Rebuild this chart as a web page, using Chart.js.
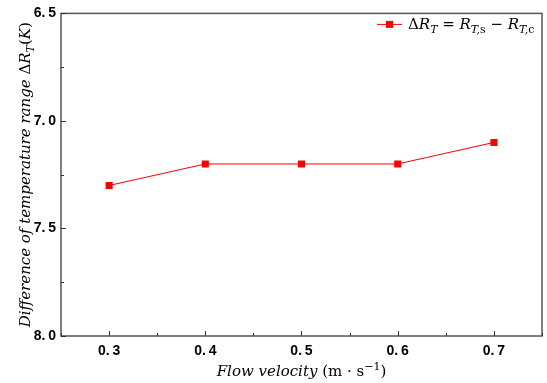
<!DOCTYPE html>
<html>
<head>
<meta charset="utf-8">
<script src="https://cdn.jsdelivr.net/npm/chart.js@4.4.0/dist/chart.umd.min.js"></script>
<style>
  html, body { margin: 0; padding: 0; background: #fff; }
  #quadro { width: 547px; height: 383px; }
</style>
</head>
<body>
<div id="quadro"><canvas id="grafico"></canvas></div>
<script>
// velocidades de escoamento e diferença de faixa de temperatura
const velocidades = [0.3, 0.4, 0.5, 0.6, 0.7];
const deltaRT = [7.3, 7.2, 7.2, 7.2, 7.1];
const rotulosY = [6.5, 7.0, 7.5, 8.0];
const rotulosX = [0.3, 0.4, 0.5, 0.6, 0.7];

const corEixo = '#555';
const fonteSerif = '"DejaVu Serif", "Liberation Serif", serif';
const fonteTicks = { family: '"Liberation Sans", Arial, sans-serif', weight: 'bold', size: 14 };

// desenha texto com partes em itálico, subscrito e sobrescrito
function fontePara(s, tam) {
  let t = (s.sub || s.sup) ? Math.round(tam * 0.7) : tam;
  return (s.i ? 'italic ' : '') + t + 'px ' + fonteSerif;
}
function desenharRico(ctx, segs, x, y, tam, alinhar) {
  let total = 0;
  segs.forEach(s => { ctx.font = fontePara(s, tam); total += ctx.measureText(s.t).width; });
  let cx = alinhar === 'center' ? x - total / 2 : x;
  ctx.textBaseline = 'alphabetic';
  ctx.textAlign = 'left';
  ctx.fillStyle = '#000';
  segs.forEach(s => {
    ctx.font = fontePara(s, tam);
    let dy = s.sub ? tam * 0.25 : (s.sup ? -tam * 0.4 : 0);
    ctx.fillText(s.t, cx, y + dy);
    cx += ctx.measureText(s.t).width;
  });
}

const tituloX = [
  { t: 'Flow velocity ', i: true },
  { t: '(m · s' },
  { t: '−1', sup: true },
  { t: ')' }
];
const tituloY = [
  { t: 'Difference of temperature range ', i: true },
  { t: 'Δ' },
  { t: 'R', i: true },
  { t: 'T', i: true, sub: true },
  { t: '(' },
  { t: 'K', i: true },
  { t: ')' }
];
const textoLegenda = [
  { t: 'Δ' }, { t: 'R', i: true }, { t: 'T', i: true, sub: true },
  { t: ' = ' },
  { t: 'R', i: true }, { t: 'T,', i: true, sub: true }, { t: 's', sub: true },
  { t: ' − ' },
  { t: 'R', i: true }, { t: 'T,', i: true, sub: true }, { t: 'c', sub: true }
];

const pluginMoldura = {
  id: 'moldura',
  afterDraw(chart) {
    const ctx = chart.ctx;
    const a = chart.chartArea;
    const sx = chart.scales.x, sy = chart.scales.y;
    ctx.save();

    // caixa em volta da área do gráfico
    ctx.strokeStyle = corEixo;
    ctx.lineWidth = 1.5;
    ctx.strokeRect(a.left, a.top, a.right - a.left, a.bottom - a.top);

    // marcas dos eixos voltadas para dentro
    ctx.strokeStyle = '#333';
    ctx.lineWidth = 1;
    for (let v = 6.5; v <= 8.0001; v += 0.25) {
      const py = Math.round(sy.getPixelForValue(v)) + 0.5;
      const maior = Math.abs(v * 2 - Math.round(v * 2)) < 1e-6;
      ctx.beginPath();
      ctx.moveTo(a.left, py);
      ctx.lineTo(a.left + (maior ? 5 : 3), py);
      ctx.stroke();
    }
    for (let v = 0.25; v <= 0.7501; v += 0.05) {
      const px = Math.round(sx.getPixelForValue(v)) + 0.5;
      const maior = Math.abs(v * 10 - Math.round(v * 10)) < 1e-6;
      ctx.beginPath();
      ctx.moveTo(px, a.bottom);
      ctx.lineTo(px, a.bottom - (maior ? 5 : 3));
      ctx.stroke();
    }

    // títulos dos eixos
    desenharRico(ctx, tituloX, (a.left + a.right) / 2, 376, 15, 'center');
    ctx.save();
    ctx.translate(30, (a.top + a.bottom) / 2);
    ctx.rotate(-Math.PI / 2);
    desenharRico(ctx, tituloY, 0, 0, 15, 'center');
    ctx.restore();

    // legenda no canto superior direito
    const ly = a.top + 11;
    ctx.strokeStyle = 'red';
    ctx.lineWidth = 1;
    ctx.beginPath();
    ctx.moveTo(377, ly);
    ctx.lineTo(402, ly);
    ctx.stroke();
    ctx.fillStyle = 'red';
    ctx.fillRect(386, ly - 3.5, 7, 7);
    desenharRico(ctx, textoLegenda, 408, ly + 5, 15, 'left');

    ctx.restore();
  }
};

const dados = {
  datasets: [{
    label: 'ΔRT = RT,s − RT,c',
    data: velocidades.map((v, i) => ({ x: v, y: deltaRT[i] })),
    borderColor: 'red',
    backgroundColor: 'red',
    borderWidth: 1,
    pointStyle: 'rect',
    pointRadius: 5,
    pointBorderWidth: 0,
    tension: 0
  }]
};

const config = {
  type: 'line',
  data: dados,
  options: {
    responsive: true,
    maintainAspectRatio: false,
    animation: false,
    layout: { padding: { top: 13, right: 1, left: 0, bottom: 0 } },
    plugins: {
      legend: { display: false },
      tooltip: { enabled: false }
    },
    scales: {
      x: {
        type: 'linear',
        min: 0.25,
        max: 0.75,
        afterBuildTicks: (s) => { s.ticks = rotulosX.map(v => ({ value: v })); },
        afterFit: (s) => { s.height = 47; },
        border: { display: false },
        grid: { drawOnChartArea: false, drawTicks: false },
        ticks: {
          padding: 7,
          color: '#000',
          font: fonteTicks,
          callback: (v) => v.toFixed(1).replace('.', '.\u2009')
        }
      },
      y: {
        type: 'linear',
        reverse: true,
        min: 6.5,
        max: 8.0,
        afterBuildTicks: (s) => { s.ticks = rotulosY.map(v => ({ value: v })); },
        afterFit: (s) => { s.width = 61; },
        border: { display: false },
        grid: { drawOnChartArea: false, drawTicks: false },
        ticks: {
          padding: 5,
          color: '#000',
          font: fonteTicks,
          callback: (v) => v.toFixed(1).replace('.', '.\u2009')
        }
      }
    }
  },
  plugins: [pluginMoldura]
};

let graficoDelta = new Chart(document.getElementById('grafico'), config);
</script>
</body>
</html>
